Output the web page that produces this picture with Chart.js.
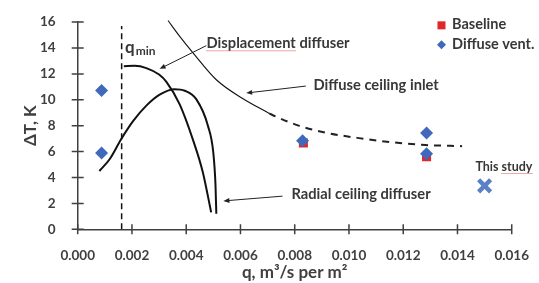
<!DOCTYPE html>
<html>
<head>
<meta charset="utf-8">
<script src="https://cdn.jsdelivr.net/npm/chart.js@4.4.1/dist/chart.umd.min.js"></script>
<style>
  html, body { margin: 0; padding: 0; background: #fff; }
  #wrap { width: 539px; height: 283px; }
</style>
</head>
<body>
<div id="wrap"><canvas id="chart" width="539" height="283"></canvas></div>
<script>
// axis ticks
const xTickValues = [0, 0.002, 0.004, 0.006, 0.008, 0.010, 0.012, 0.014, 0.016];
const xTickLabels = ['0.000', '0.002', '0.004', '0.006', '0.008', '0.010', '0.012', '0.014', '0.016'];
const yTickValues = [0, 2, 4, 6, 8, 10, 12, 14, 16];

// minimum flow rate line
const qMin = 0.00162;
const qMinDT = [0, 15.7];

// curves
const displacementQ = [0.00170, 0.00210, 0.00253, 0.00300, 0.00327, 0.00376, 0.00425, 0.00461, 0.00492];
const displacementDT = [12.6, 12.62, 12.45, 11.95, 11.39, 9.65, 6.91, 4.43, 1.31];

const radialQ = [0.00080, 0.00119, 0.00160, 0.00204, 0.00253, 0.00302, 0.00357, 0.00395, 0.00437, 0.00480, 0.00500, 0.00508, 0.00511];
const radialDT = [4.5, 5.45, 6.95, 8.35, 9.55, 10.4, 10.82, 10.7, 10.05, 8.0, 5.9, 3.4, 1.2];

const inletSolidQ = [0.00333, 0.00376, 0.00425, 0.00511, 0.00608, 0.00706];
const inletSolidDT = [16.12, 14.9, 13.63, 11.55, 10.1, 8.95];

const inletDashQ = [0.00706, 0.00731, 0.00817, 0.00915, 0.01037, 0.0116, 0.01282, 0.01417];
const inletDashDT = [8.95, 8.7, 7.99, 7.46, 7.04, 6.72, 6.51, 6.42];

// measured points
const baselineQ = [0.00832, 0.01286];
const baselineDT = [6.66, 5.6];
const diffuseVentQ = [0.00088, 0.00088, 0.00829, 0.01286, 0.01286];
const diffuseVentDT = [10.72, 5.9, 6.84, 7.43, 5.84];
const thisStudyQ = [0.0150];
const thisStudyDT = [3.36];

const AXIS = '#404040';
const TEXT = '#383838';
const RED = '#e3262a';
const BLUE = '#4069bb';
const FONT = 'Lato, "Open Sans", sans-serif';

function pts(qs, ts) {
  return qs.map((q, i) => ({ x: q, y: ts[i] }));
}

function curve(data, extra) {
  return Object.assign({
    data,
    showLine: true,
    pointRadius: 0,
    borderColor: '#111',
    borderWidth: 2,
    cubicInterpolationMode: 'monotone',
    order: 3,
  }, extra);
}

// cross ticks, labels, arrows and the legend
const annotate = {
  id: 'annotate',
  afterDraw(chart) {
    const { ctx, chartArea } = chart;
    const x = chart.scales.x;
    const y = chart.scales.y;
    const px = (q) => x.getPixelForValue(q);
    const py = (t) => y.getPixelForValue(t);
    ctx.save();

    ctx.strokeStyle = AXIS;
    ctx.lineWidth = 1.5;
    ctx.beginPath();
    x.ticks.forEach((t) => {
      const X = px(t.value);
      ctx.moveTo(X, chartArea.bottom - 5);
      ctx.lineTo(X, chartArea.bottom + 5);
    });
    y.ticks.forEach((t) => {
      const Y = py(t.value);
      ctx.moveTo(chartArea.left - 6, Y);
      ctx.lineTo(chartArea.left + 6, Y);
    });
    ctx.stroke();

    const text = (str, q, t, size) => {
      ctx.font = `bold ${size}px ${FONT}`;
      ctx.fillStyle = TEXT;
      ctx.textBaseline = 'alphabetic';
      ctx.textAlign = 'left';
      ctx.fillText(str, px(q), py(t));
      return ctx.measureText(str).width;
    };
    const squiggle = (X, Y, w) => {
      ctx.save();
      ctx.strokeStyle = '#e05050';
      ctx.lineWidth = 1;
      ctx.setLineDash([1, 1]);
      ctx.beginPath();
      ctx.moveTo(X, Y + 2.5);
      ctx.lineTo(X + w, Y + 2.5);
      ctx.stroke();
      ctx.restore();
    };
    const arrow = (q1, t1, q2, t2) => {
      const x1 = px(q1), y1 = py(t1), x2 = px(q2), y2 = py(t2);
      const a = Math.atan2(y2 - y1, x2 - x1);
      ctx.strokeStyle = '#222';
      ctx.fillStyle = '#222';
      ctx.lineWidth = 1;
      ctx.beginPath();
      ctx.moveTo(x1, y1);
      ctx.lineTo(x2 - 4 * Math.cos(a), y2 - 4 * Math.sin(a));
      ctx.stroke();
      ctx.beginPath();
      ctx.moveTo(x2, y2);
      ctx.lineTo(x2 - 6 * Math.cos(a) + 2.5 * Math.sin(a), y2 - 6 * Math.sin(a) - 2.5 * Math.cos(a));
      ctx.lineTo(x2 - 6 * Math.cos(a) - 2.5 * Math.sin(a), y2 - 6 * Math.sin(a) + 2.5 * Math.cos(a));
      ctx.closePath();
      ctx.fill();
    };

    // q_min
    text('q', 0.00174, 13.63, 17);
    text('min', 0.00214, 13.43, 12);

    const LBL = 14.7;
    text('Displacement diffuser', 0.00475, 13.98, LBL);
    squiggle(px(0.00475), py(13.98), ctx.measureText('Displacement').width);
    arrow(0.00474, 14.18, 0.00302, 12.39);

    text('Diffuse ceiling inlet', 0.00869, 10.77, LBL);
    arrow(0.00841, 11.06, 0.00621, 10.52);

    text('Radial ceiling diffuser', 0.00788, 2.36, LBL);
    arrow(0.00755, 2.56, 0.00537, 2.19);

    text('This study', 0.01466, 4.5, 12.5);
    const wThis = ctx.measureText('This ').width;
    squiggle(px(0.01466) + wThis, py(4.5), ctx.measureText('study').width);

    // legend
    const lx = px(0.01341);
    const ly1 = py(15.75);
    const ly2 = py(14.25);
    ctx.fillStyle = RED;
    ctx.fillRect(lx - 4, ly1 - 4, 8, 8);
    ctx.fillStyle = BLUE;
    ctx.beginPath();
    ctx.moveTo(lx, ly2 - 4.5);
    ctx.lineTo(lx + 4.5, ly2);
    ctx.lineTo(lx, ly2 + 4.5);
    ctx.lineTo(lx - 4.5, ly2);
    ctx.closePath();
    ctx.fill();
    text('Baseline', 0.0138, 15.45, 14.5);
    text('Diffuse vent.', 0.0138, 13.96, 14.5);

    ctx.restore();
  },
};

new Chart(document.getElementById('chart'), {
  type: 'scatter',
  data: {
    datasets: [
      curve(pts([qMin, qMin], qMinDT), { borderWidth: 1.5, borderDash: [6, 4], cubicInterpolationMode: 'default', tension: 0 }),
      curve(pts(displacementQ, displacementDT)),
      curve(pts(radialQ, radialDT)),
      curve(pts(inletSolidQ, inletSolidDT), { borderWidth: 1.1, clip: false }),
      curve(pts(inletDashQ, inletDashDT), { borderWidth: 2, borderDash: [7, 6], borderColor: '#222' }),
      {
        label: 'Baseline',
        data: pts(baselineQ, baselineDT),
        pointStyle: 'rect',
        pointRadius: 6.4,
        backgroundColor: RED,
        borderColor: RED,
        borderWidth: 0,
        order: 2,
      },
      {
        label: 'Diffuse vent.',
        data: pts(diffuseVentQ, diffuseVentDT),
        pointStyle: 'rectRot',
        pointRadius: 6.5,
        backgroundColor: BLUE,
        borderColor: BLUE,
        borderWidth: 0,
        order: 1,
      },
      {
        label: 'This study',
        data: pts(thisStudyQ, thisStudyDT),
        pointStyle: 'crossRot',
        pointRadius: 8.5,
        borderColor: '#5a80c6',
        borderWidth: 4.5,
        order: 0,
      },
    ],
  },
  options: {
    responsive: false,
    animation: false,
    layout: { padding: { top: 15, right: 26, left: 0, bottom: 0 } },
    plugins: {
      legend: { display: false },
      tooltip: { enabled: false },
    },
    scales: {
      x: {
        type: 'linear',
        min: 0,
        max: 0.016,
        afterBuildTicks: (s) => { s.ticks = xTickValues.map((v) => ({ value: v })); },
        afterFit: (s) => { s.height = 53.7; },
        ticks: {
          callback: (v, i) => xTickLabels[i],
          font: { family: FONT, size: 13.5, weight: 'bold' },
          color: AXIS,
          padding: 10,
          maxRotation: 0,
        },
        grid: { display: false },
        border: { display: true, color: AXIS, width: 1.5 },
        title: {
          display: true,
          text: 'q, m³/s per m²',
          font: { family: FONT, size: 17, weight: 'bold' },
          color: AXIS,
          padding: { top: 0, bottom: 0 },
        },
      },
      y: {
        type: 'linear',
        min: 0,
        max: 16,
        afterBuildTicks: (s) => { s.ticks = yTickValues.map((v) => ({ value: v })); },
        afterFit: (s) => { s.width = 77.7; },
        ticks: {
          font: { family: FONT, size: 13.5, weight: 'bold' },
          color: AXIS,
          padding: 14,
        },
        grid: { display: false },
        border: { display: true, color: AXIS, width: 1.5 },
        title: {
          display: true,
          text: 'ΔT, K',
          font: { family: FONT, size: 17, weight: 'bold' },
          color: AXIS,
          padding: { top: 20, bottom: 0 },
        },
      },
    },
  },
  plugins: [annotate],
});
</script>
</body>
</html>
